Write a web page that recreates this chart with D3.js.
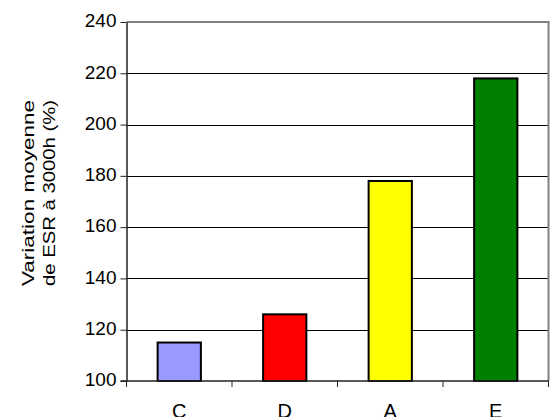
<!DOCTYPE html>
<html>
<head>
<meta charset="utf-8">
<script src="https://cdn.jsdelivr.net/npm/d3@7"></script>
<style>
  html, body { margin: 0; padding: 0; background: #fff; }
  svg { display: block; font-family: Arial, "Liberation Sans", sans-serif; }
</style>
</head>
<body>
<svg id="chart" width="555" height="417"></svg>
<script>
const categories = ["C", "D", "A", "E"];
const values = [115, 126, 178, 218];
const colors = ["#9999FF", "#FF0000", "#FFFF00", "#008000"];
const yTicks = [100, 120, 140, 160, 180, 200, 220, 240];
const titleLines = ["Variation moyenne", "de ESR à 3000h (%)"];

(function () {
const svg = d3.select("#chart");
const pLeft = 126.5, pRight = 548.5, pTop = 22, pBottom = 381;

const x = d3.scaleBand().domain(categories).range([pLeft, pRight])
  .paddingInner(0.59).paddingOuter(0.295);
const y = d3.scaleLinear().domain([100, 240]).range([pBottom, pTop]);

// gridlines
svg.append("g").selectAll("line").data(yTicks.filter(t => t > 100 && t < 240)).join("line")
  .attr("x1", pLeft).attr("x2", pRight)
  .attr("y1", d => Math.round(y(d)) + 0.5).attr("y2", d => Math.round(y(d)) + 0.5)
  .attr("stroke", "#000").attr("stroke-width", 1);

// top and right border (gray)
svg.append("line").attr("x1", pLeft).attr("x2", pRight + 1)
  .attr("y1", pTop).attr("y2", pTop).attr("stroke", "#808080").attr("stroke-width", 2);
svg.append("line").attr("x1", pRight).attr("x2", pRight)
  .attr("y1", pTop).attr("y2", pBottom).attr("stroke", "#808080").attr("stroke-width", 2);

// bars
svg.append("g").selectAll("rect").data(categories).join("rect")
  .attr("x", d => x(d))
  .attr("width", x.bandwidth())
  .attr("y", (d, i) => y(values[i]))
  .attr("height", (d, i) => y(100) - y(values[i]))
  .attr("fill", (d, i) => colors[i])
  .attr("stroke", "#000").attr("stroke-width", 2);

// y axis
const yAxis = d3.axisLeft(y).tickValues(yTicks).tickSize(6).tickPadding(4).tickSizeOuter(0);
const gy = svg.append("g").attr("transform", `translate(${pLeft},0)`).call(yAxis);
gy.select(".domain").attr("stroke", "#222").attr("stroke-width", 1.5);
gy.selectAll(".tick line").attr("stroke", "#222");
gy.selectAll("text").attr("font-size", 19).attr("fill", "#000")
  .attr("font-family", "Arial, 'Liberation Sans', sans-serif").attr("dy", "0.25em");

// x axis baseline
svg.append("line").attr("x1", pLeft - 6).attr("x2", pRight)
  .attr("y1", pBottom).attr("y2", pBottom).attr("stroke", "#222").attr("stroke-width", 1.5);

// x boundary ticks
const step = x.step();
const bounds = d3.range(categories.length + 1).map(i => pLeft + i * step);
svg.append("g").selectAll("line").data(bounds).join("line")
  .attr("x1", d => d).attr("x2", d => d)
  .attr("y1", pBottom).attr("y2", pBottom + 6)
  .attr("stroke", "#222").attr("stroke-width", 1);

// category labels
svg.append("g").selectAll("text").data(categories).join("text")
  .attr("x", d => x(d) + x.bandwidth() / 2)
  .attr("y", 418)
  .attr("text-anchor", "middle")
  .attr("font-size", 20)
  .attr("fill", "#000")
  .text(d => d);

// y title
const tcy = 193;
svg.append("g").selectAll("text").data(titleLines).join("text")
  .attr("transform", (d, i) => `translate(${i === 0 ? 33.5 : 54.5},${tcy}) rotate(-90)`)
  .attr("text-anchor", "middle")
  .attr("font-size", 16)
  .attr("textLength", 186)
  .attr("lengthAdjust", "spacingAndGlyphs")
  .attr("fill", "#000")
  .text(d => d);
})();
</script>
</body>
</html>
